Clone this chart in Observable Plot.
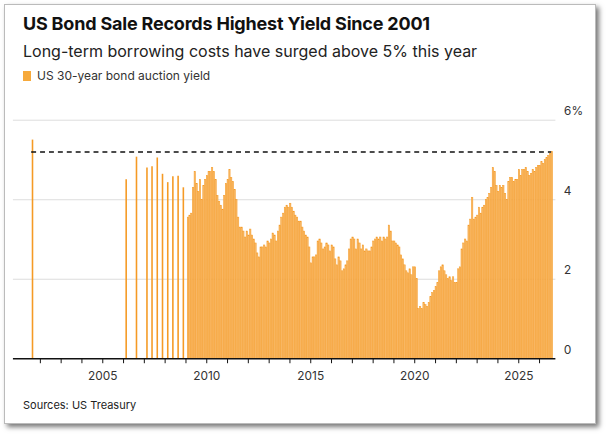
<!DOCTYPE html>
<html><head><meta charset="utf-8">
<script src="https://cdn.jsdelivr.net/npm/d3@7"></script>
<script src="https://cdn.jsdelivr.net/npm/@observablehq/plot@0.6"></script>
<style>
body{margin:0;background:#fff;font-family:Inter,"Noto Sans",sans-serif;}
#card{position:absolute;left:4px;top:4px;width:590px;height:418px;border:1px solid #bbb;box-shadow:3px 3px 5px #777;background:#fff;overflow:hidden}
h1{margin:0;position:absolute;left:18px;top:8px;font-size:18px;font-weight:700;color:#111;letter-spacing:-0.2px}
.sub{position:absolute;left:18px;top:36px;font-size:16px;color:#222}
.leg{position:absolute;left:18px;top:63px;font-size:12px;color:#333;display:flex;align-items:center}
.leg span{display:inline-block;width:8px;height:10px;background:#f6a93b;margin-right:6px}
#chart{position:absolute;left:0;top:86px}
.src{position:absolute;left:18px;top:393px;font-size:11px;color:#222}
</style></head><body>
<div id="card">
<h1>US Bond Sale Records Highest Yield Since 2001</h1>
<div class="sub">Long-term borrowing costs have surged above 5% this year</div>
<div class="leg"><span></span>US 30-year bond auction yield</div>
<div id="chart"></div>
<div class="src">Sources: US Treasury</div>
</div>
<script>
const sparseDates = ["2001-08","2006-02","2006-08","2007-02","2007-05","2007-08","2007-11","2008-02","2008-05","2008-08","2008-11"];
const sparseYields = [5.5,4.5,5.07,4.8,4.83,5.05,4.64,4.43,4.58,4.59,4.3];
const monthlyStart = "2009-02";
const monthlyYields = [
 3.55,3.6,3.65,4.3,4.7,4.4,4.2,4.5,4.0,4.35,4.5,
 4.6,4.7,4.7,4.8,4.7,4.5,4.1,3.95,3.85,3.75,4.1,4.4,
 4.5,4.75,4.55,4.45,4.25,4.0,3.55,3.3,3.3,3.2,3.05,3.2,
 3.1,3.25,3.1,3.0,2.9,2.65,2.55,2.8,2.8,2.85,2.8,2.95,
 2.9,3.0,3.15,3.1,2.95,3.2,3.35,3.55,3.65,3.8,3.85,3.8,
 3.9,3.8,3.7,3.6,3.55,3.45,3.45,3.3,3.2,3.1,3.05,2.8,
 2.4,2.55,2.55,2.6,2.95,3.0,2.9,2.75,2.8,2.9,2.85,2.7,
 2.85,2.8,2.5,2.35,2.55,2.45,2.2,2.25,2.35,2.45,2.75,3.0,
 3.05,3.0,2.75,3.0,2.9,2.75,2.85,2.7,2.75,2.7,2.7,2.8,
 2.95,3.0,3.05,3.0,3.05,2.95,3.05,3.0,3.05,3.35,3.2,2.95,
 2.95,2.9,2.85,2.8,2.6,2.5,2.35,2.2,2.15,2.25,2.1,2.3,
 2.3,2.0,1.25,1.3,1.25,1.4,1.35,1.3,1.4,1.55,1.65,1.7,
 1.8,1.9,2.2,2.3,2.35,2.2,2.1,2.0,2.05,1.95,2.05,1.9,
 1.9,2.25,2.3,2.75,2.9,3.0,2.95,3.35,3.5,4.05,3.5,3.55,
 3.6,3.8,3.65,3.8,3.85,4.0,4.05,4.15,4.3,4.8,4.7,4.35,
 4.2,4.35,4.3,4.35,4.15,4.0,4.45,4.55,4.55,4.45,4.5,4.5,
 4.75,4.6,4.75,4.75,4.8,4.7,4.6,4.65,4.75,4.7,4.8,4.85,
 4.85,4.95,4.9,5.0,5.05,5.1,5.15,5.2];
const recordYield = 5.2;
const yTicks = [0,2,4,6];
const xLabelYears = [2005,2010,2015,2020,2025];

const parse = d3.utcParse("%Y-%m");
const data = [
  ...sparseDates.map((d,i)=>({date:parse(d), y:sparseYields[i]})),
  ...monthlyYields.map((v,i)=>({date:d3.utcMonth.offset(parse(monthlyStart),i), y:v}))
];
const sparse = data.slice(0, sparseDates.length);
const dense = data.slice(sparseDates.length);
const x0 = new Date(Date.UTC(2000,8,15)), x1 = new Date(Date.UTC(2026,9,15));
const yearTicks = d3.range(2002,2027).map(y=>new Date(Date.UTC(y,0,1)));
const plot = Plot.plot({
  width: 596, height: 300,
  marginLeft: 8, marginRight: 40, marginTop: 29, marginBottom: 30,
  x: {type:"utc", domain:[x0,x1], label:null},
  y: {domain:[0,6], ticks:yTicks, label:null},
  style:{fontFamily:"Inter, 'Noto Sans', sans-serif", fontSize:"12px", color:"#333"},
  marks: [
    Plot.gridY(yTicks.filter(d=>d>0), {stroke:"#ddd", strokeOpacity:1}),
    Plot.axisY({anchor:"right", ticks:yTicks, tickSize:0, tickPadding:8, tickFormat:d=>d===6?"6%":d, dy:-9, fontSize:12}),
    Plot.rectY(dense, {x1:"date", x2:d=>d3.utcMonth.offset(d.date,1), y:"y", fill:"#f8b866", stroke:"#f59a25", strokeWidth:0.5, insetRight:0.3}),
    Plot.ruleX(sparse, {x:d=>d3.utcDay.offset(d.date,15), y1:0, y2:"y", stroke:"#f59a25", strokeWidth:1.6}),
    Plot.ruleY([recordYield], {x1:data[0].date, x2:data[data.length-1].date, stroke:"#111", strokeWidth:1.5, strokeDasharray:"5,4"}),
    Plot.axisX({ticks:yearTicks, tickFormat:()=>"", tickSize:5, stroke:"#111"}),
    Plot.ruleY([0], {stroke:"#111", strokeWidth:1.5}),
    Plot.text(xLabelYears.map(y=>new Date(Date.UTC(y,0,1))), {x:d=>d, y:0, dy:18, text:d=>String(d.getUTCFullYear()), fontSize:12, fill:"#333"})
  ]
});
document.getElementById("chart").appendChild(plot);
</script>
</body></html>
